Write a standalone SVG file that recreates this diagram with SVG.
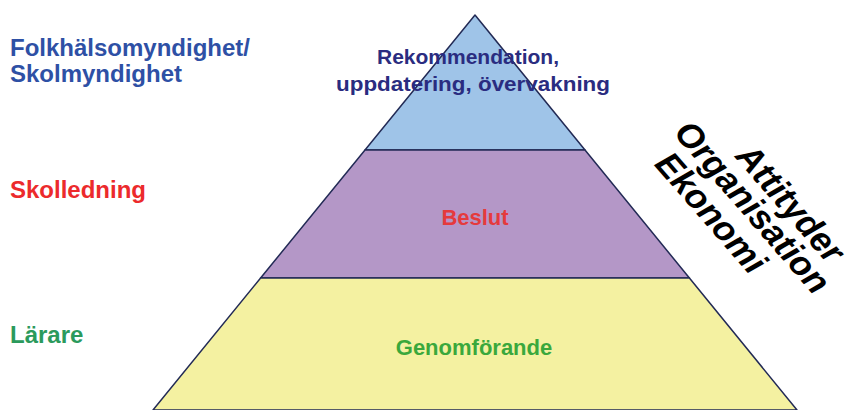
<svg xmlns="http://www.w3.org/2000/svg" width="853" height="410" viewBox="0 0 853 410">
  <style>
    .lbl { font-family: "Liberation Sans", Arial, sans-serif; font-weight: bold; font-size: 24px; }
    .ptxt { font-family: "Liberation Sans", Arial, sans-serif; font-weight: bold; text-anchor: middle; }
    .band { stroke: #222a55; stroke-width: 1.5; stroke-linejoin: round; }
    .side { font-family: "Liberation Sans", Arial, sans-serif; font-weight: bold; font-style: italic; font-size: 35px; fill: #000; }
  </style>
  <rect width="853" height="410" fill="#ffffff"/>

  <g id="labels-left">
    <text class="lbl" x="10" y="56" fill="#2e50a5">Folkhälsomyndighet/</text>
    <text class="lbl" x="10" y="82" fill="#2e50a5">Skolmyndighet</text>
    <text class="lbl" x="10" y="198" fill="#ec2a2c">Skolledning</text>
    <text class="lbl" x="10" y="343" fill="#2b9a5c">Lärare</text>
  </g>

  <g id="level-top">
    <polygon class="band" points="475,15 585,150 365,150" fill="#9fc4e8"/>
    <text class="ptxt" x="468" y="64" font-size="21" fill="#2a2c80" textLength="182" lengthAdjust="spacingAndGlyphs">Rekommendation,</text>
    <text class="ptxt" x="473" y="91" font-size="21" fill="#2a2c80" textLength="274" lengthAdjust="spacingAndGlyphs">uppdatering, övervakning</text>
  </g>

  <g id="level-middle">
    <polygon class="band" points="365,150 585,150 689.4,278 260.6,278" fill="#b497c7"/>
    <text class="ptxt" x="475" y="225" font-size="22" fill="#e53a3c">Beslut</text>
  </g>

  <g id="level-bottom">
    <polygon class="band" points="260.6,278 689.4,278 797,410 153,410" fill="#f4f1a1"/>
    <text class="ptxt" x="474" y="355" font-size="22" fill="#3aa83c">Genomförande</text>
  </g>

  <g id="side-text" transform="translate(-1,-3) rotate(49)">
    <text class="side" x="603" y="-450">Attityder</text>
    <text class="side" x="545" y="-419">Organisation</text>
    <text class="side" x="556" y="-384">Ekonomi</text>
  </g>
</svg>
